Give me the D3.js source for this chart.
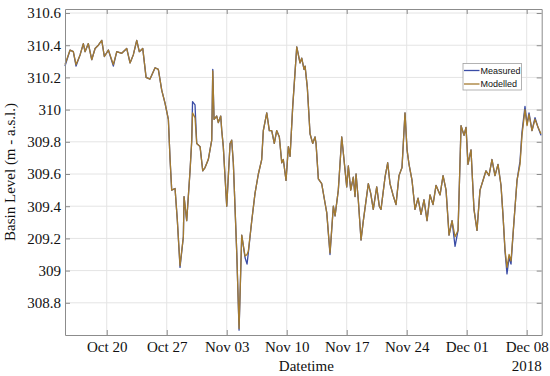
<!DOCTYPE html>
<html>
<head>
<meta charset="utf-8">
<script src="https://cdn.jsdelivr.net/npm/d3@7"></script>
<style>
  body { margin: 0; background: #fff; }
  svg { display: block; }
  text { font-family: "Liberation Serif", "Times New Roman", serif; fill: #111; }
  .legend text { font-family: "Liberation Sans", Arial, sans-serif; }
</style>
</head>
<body>
<svg id="chart" width="550" height="376"></svg>
<script>
// days since 2018-10-15 00:00 (UTC)
const dayOffsets = [
  0.13, 0.72, 1.10, 1.42, 1.89, 2.27, 2.47, 2.85, 3.25, 3.64,
  4.02, 4.42, 4.72, 5.19, 5.77, 6.17, 6.75, 7.33, 7.72, 8.10,
  8.50, 8.80, 9.20, 9.59, 10.05, 10.64, 11.02, 11.42, 11.80, 12.19,
  12.39, 12.58, 12.97, 13.24, 13.55, 13.94, 14.02, 14.33, 14.72, 14.92,
  15.01, 15.30, 15.50, 15.89, 16.20, 16.47, 16.85, 17.25, 17.37, 17.52,
  17.83, 18.02, 18.30, 18.42, 18.60, 19.00, 19.39, 19.58, 19.77, 20.17,
  20.44, 20.75, 21.14, 21.37, 21.52, 21.92, 22.30, 22.69, 23.08, 23.27,
  23.67, 23.97, 24.25, 24.55, 24.83, 25.14, 25.42, 25.60, 25.92, 26.19,
  26.39, 26.70, 27.17, 27.55, 27.75, 28.02, 28.14, 28.40, 28.72, 29.03,
  29.30, 29.42, 29.69, 30.08, 30.47, 30.67, 31.05, 31.44, 31.64, 32.02,
  32.42, 33.00, 33.19, 33.47, 33.77, 33.97, 34.09, 34.35, 34.67, 34.94,
  35.52, 35.80, 36.10, 36.50, 36.80, 37.00, 37.47, 37.78, 38.05, 38.40,
  38.75, 39.10, 39.45, 39.80, 40.04, 40.27, 40.62, 40.97, 41.32, 41.67,
  42.02, 42.37, 42.72, 43.07, 43.42, 43.89, 44.24, 44.59, 44.94, 45.29,
  45.64, 45.99, 46.34, 46.69, 46.92, 47.15, 47.50, 47.85, 48.20, 48.55,
  48.90, 49.25, 49.60, 49.95, 50.30, 50.65, 51.00, 51.24, 51.47, 51.70,
  51.94, 52.17, 52.52, 52.87, 53.22, 53.45, 53.80, 54.04, 54.27, 54.62,
  54.97, 55.32, 55.67
];

const measured = [
  310.27, 310.37, 310.36, 310.27, 310.34, 310.41, 310.36, 310.41, 310.31, 310.38,
  310.40, 310.43, 310.33, 310.37, 310.27, 310.36, 310.35, 310.38, 310.29, 310.34,
  310.43, 310.36, 310.38, 310.20, 310.19, 310.26, 310.25, 310.12, 310.04, 309.94,
  309.69, 309.50, 309.51, 309.31, 309.02, 309.21, 309.46, 309.31, 309.62, 309.81,
  310.05, 310.03, 309.79, 309.77, 309.62, 309.64, 309.69, 309.81, 310.25, 309.94,
  309.96, 309.92, 309.96, 309.87, 309.77, 309.40, 309.79, 309.81, 309.67, 309.11,
  308.63, 309.22, 309.08, 309.04, 309.11, 309.31, 309.48, 309.60, 309.69, 309.87,
  309.98, 309.87, 309.87, 309.79, 309.87, 309.83, 309.67, 309.69, 309.56, 309.77,
  309.71, 310.02, 310.39, 310.29, 310.32, 310.25, 310.27, 310.14, 309.85, 309.79,
  309.83, 309.79, 309.57, 309.54, 309.42, 309.36, 309.10, 309.40, 309.34, 309.50,
  309.83, 309.52, 309.65, 309.50, 309.58, 309.46, 309.60, 309.44, 309.19, 309.31,
  309.54, 309.48, 309.38, 309.52, 309.40, 309.38, 309.58, 309.67, 309.54, 309.47,
  309.41, 309.59, 309.64, 309.98, 309.75, 309.66, 309.56, 309.38, 309.45, 309.35,
  309.44, 309.31, 309.47, 309.41, 309.53, 309.47, 309.59, 309.50, 309.22, 309.31,
  309.15, 309.25, 309.90, 309.84, 309.89, 309.66, 309.75, 309.38, 309.25, 309.50,
  309.56, 309.62, 309.59, 309.69, 309.59, 309.66, 309.53, 309.34, 309.12, 308.98,
  309.08, 309.04, 309.31, 309.56, 309.68, 309.86, 310.02, 309.91, 309.98, 309.87,
  309.95, 309.89, 309.84
];

const modelled = [
  310.28, 310.37, 310.36, 310.28, 310.34, 310.41, 310.36, 310.41, 310.31, 310.38,
  310.40, 310.43, 310.33, 310.37, 310.28, 310.36, 310.35, 310.38, 310.29, 310.34,
  310.43, 310.36, 310.38, 310.20, 310.19, 310.26, 310.25, 310.12, 310.04, 309.94,
  309.69, 309.50, 309.51, 309.31, 309.03, 309.21, 309.46, 309.31, 309.62, 309.81,
  309.98, 309.95, 309.79, 309.77, 309.62, 309.64, 309.69, 309.81, 310.24, 309.94,
  309.96, 309.92, 309.96, 309.87, 309.77, 309.40, 309.79, 309.81, 309.67, 309.11,
  308.64, 309.22, 309.09, 309.10, 309.12, 309.31, 309.48, 309.60, 309.69, 309.87,
  309.98, 309.87, 309.87, 309.79, 309.87, 309.83, 309.67, 309.69, 309.56, 309.77,
  309.71, 310.02, 310.39, 310.29, 310.32, 310.25, 310.27, 310.14, 309.85, 309.79,
  309.83, 309.79, 309.57, 309.54, 309.42, 309.36, 309.11, 309.40, 309.34, 309.50,
  309.83, 309.52, 309.65, 309.50, 309.58, 309.46, 309.60, 309.44, 309.19, 309.31,
  309.54, 309.48, 309.38, 309.52, 309.40, 309.38, 309.58, 309.67, 309.54, 309.47,
  309.41, 309.59, 309.64, 309.98, 309.75, 309.66, 309.56, 309.38, 309.45, 309.35,
  309.44, 309.31, 309.47, 309.41, 309.53, 309.47, 309.59, 309.50, 309.22, 309.31,
  309.21, 309.25, 309.90, 309.84, 309.89, 309.66, 309.75, 309.38, 309.25, 309.50,
  309.56, 309.62, 309.59, 309.69, 309.59, 309.66, 309.53, 309.34, 309.13, 309.02,
  309.10, 309.06, 309.31, 309.56, 309.66, 309.84, 310.00, 309.90, 309.97, 309.87,
  309.94, 309.89, 309.85
];

const yTickValues = [308.8, 309, 309.2, 309.4, 309.6, 309.8, 310, 310.2, 310.4, 310.6];
const yTickLabels = ["308.8", "309", "209.2", "309.4", "309.6", "309.8", "310", "310.2", "310.4", "310.6"];
const xTickDates = ["2018-10-20", "2018-10-27", "2018-11-03", "2018-11-10", "2018-11-17", "2018-11-24", "2018-12-01", "2018-12-08"];
const seriesNames = ["Measured", "Modelled"];
const seriesColors = ["#3a4ca6", "#a47b30"];

const serif = '"Liberation Serif", "Times New Roman", serif';
const day0 = Date.UTC(2018, 9, 15);
const toDate = d => new Date(day0 + d * 864e5);

const svg = d3.select('#chart');
const plotLeft = 65, plotRight = 541.7, plotTop = 9, plotBottom = 335;

const x = d3.scaleUtc()
    .domain([toDate(0.13), toDate(55.75)])
    .range([plotLeft, plotRight]);
const y = d3.scaleLinear()
    .domain([308.6, 310.625])
    .range([plotBottom, plotTop]);

const xTicks = xTickDates.map(s => new Date(s + 'T00:00:00Z'));

//grid
const grid = svg.append('g');
grid.selectAll('.gx').data(xTicks).enter().append('line')
    .attr('x1', d => x(d)).attr('x2', d => x(d))
    .attr('y1', plotTop).attr('y2', plotBottom)
    .attr('stroke', '#e4e4e4').attr('stroke-width', 1);
grid.selectAll('.gy').data(yTickValues).enter().append('line')
    .attr('x1', plotLeft).attr('x2', plotRight)
    .attr('y1', d => y(d)).attr('y2', d => y(d))
    .attr('stroke', '#e4e4e4').attr('stroke-width', 1);

//lines
const rows = dayOffsets.map((d, i) => ({ t: toDate(d), m: measured[i], s: modelled[i] }));
const lineM = d3.line().x(d => x(d.t)).y(d => y(d.m));
const lineS = d3.line().x(d => x(d.t)).y(d => y(d.s));

svg.append('path').datum(rows)
    .attr('d', lineM).attr('fill', 'none')
    .attr('stroke', seriesColors[0]).attr('stroke-width', 1.3).attr('stroke-linejoin', 'round');
svg.append('path').datum(rows)
    .attr('d', lineS).attr('fill', 'none')
    .attr('stroke', seriesColors[1]).attr('stroke-width', 1.3).attr('stroke-linejoin', 'round');

//axes (box with inward ticks on all sides)
const tickFmt = d3.utcFormat('%b %d');
const xAxisB = d3.axisBottom(x).tickValues(xTicks).tickFormat(tickFmt).tickSizeInner(-5).tickSizeOuter(0).tickPadding(6);
const xAxisT = d3.axisTop(x).tickValues(xTicks).tickFormat('').tickSizeInner(-5).tickSizeOuter(0);
const yAxisL = d3.axisLeft(y).tickValues(yTickValues).tickFormat((d, i) => yTickLabels[i]).tickSizeInner(-5).tickSizeOuter(0).tickPadding(4);
const yAxisR = d3.axisRight(y).tickValues(yTickValues).tickFormat('').tickSizeInner(-5).tickSizeOuter(0);

function styleAxis(g) {
    g.attr('font-family', serif).attr('font-size', 15);
    g.select('.domain').attr('stroke', '#8c8c8c');
    g.selectAll('.tick line').attr('stroke', '#8c8c8c');
    g.selectAll('.tick text').attr('fill', '#111').style('font-family', serif).style('font-size', '15px');
}

svg.append('g').attr('transform', `translate(0,${plotBottom})`).call(xAxisB).call(styleAxis);
svg.append('g').attr('transform', `translate(0,${plotTop})`).call(xAxisT).call(styleAxis);
svg.append('g').attr('transform', `translate(${plotLeft},0)`).call(yAxisL).call(styleAxis);
svg.append('g').attr('transform', `translate(${plotRight},0)`).call(yAxisR).call(styleAxis);

//year under last tick
svg.append('text')
    .attr('x', x(xTicks[xTicks.length - 1])).attr('y', 370.5)
    .attr('text-anchor', 'middle').style('font-size', '15px')
    .text('2018');

//axis titles
svg.append('text')
    .attr('x', (plotLeft + plotRight) / 2 + 3).attr('y', 370.5)
    .attr('text-anchor', 'middle').style('font-size', '15px')
    .text('Datetime');
svg.append('text')
    .attr('transform', `translate(15,${(plotTop + plotBottom) / 2}) rotate(-90)`)
    .attr('text-anchor', 'middle').style('font-size', '15px')
    .text('Basin Level (m - a.s.l.)');

//legend
const lg = svg.append('g').attr('class', 'legend').attr('transform', 'translate(463,63.5)');
lg.append('rect').attr('width', 58.5).attr('height', 26.5)
    .attr('fill', '#fff').attr('stroke', '#a0a0a0').attr('stroke-width', 0.8);
seriesNames.forEach((name, i) => {
    const yy = 7 + i * 13.5;
    lg.append('line').attr('x1', 1).attr('x2', 16.5).attr('y1', yy).attr('y2', yy)
        .attr('stroke', seriesColors[i]).attr('stroke-width', 1.3);
    lg.append('text').attr('x', 17.5).attr('y', yy + 3.3)
        .style('font-size', '9px').text(name);
});
</script>
</body>
</html>
